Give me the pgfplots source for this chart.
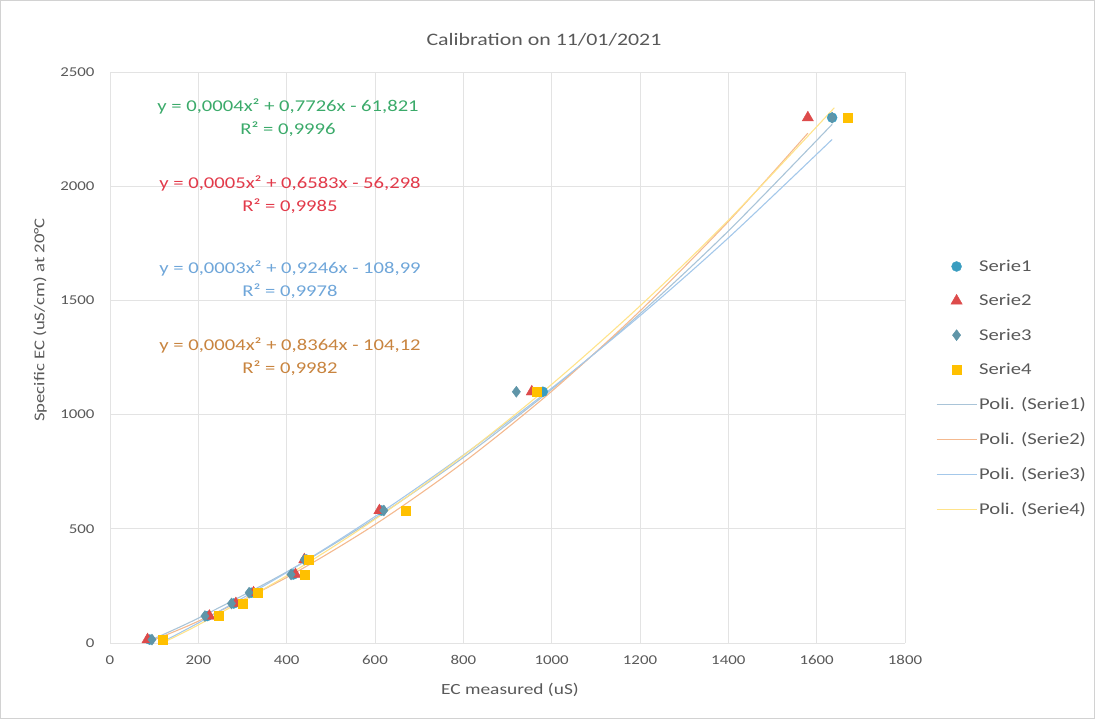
\documentclass[border=0pt]{standalone}
\usepackage{fontspec}
\setmainfont{Carlito}[FakeStretch=1.25]
\usepackage{pgfplots}
\pgfplotsset{compat=1.18}
\definecolor{txt}{HTML}{595959}
\definecolor{gridc}{HTML}{E3E3E3}
\definecolor{sA}{HTML}{3A9DC0}
\definecolor{sB}{HTML}{DD4B4B}
\definecolor{sC}{HTML}{5F95A8}
\definecolor{sD}{HTML}{FFC000}
\definecolor{tA}{HTML}{A9C4D8}
\definecolor{tB}{HTML}{F4B98F}
\definecolor{tC}{HTML}{A4C8EA}
\definecolor{tD}{HTML}{FFE38A}
\definecolor{eA}{HTML}{3BAA6A}
\definecolor{eB}{HTML}{E23A4A}
\definecolor{eC}{HTML}{6FA6D9}
\definecolor{eD}{HTML}{C8843F}
\begin{document}
\begin{tikzpicture}[x=1pt,y=1pt]
\useasboundingbox (0,0) rectangle (1095,719);
\draw[gray!35] (0.5,0.5) rectangle (1094.5,718.5);
\begin{axis}[
  at={(110pt,76pt)}, anchor=south west,
  scale only axis, width=795pt, height=571pt,
  xmin=0, xmax=1800, ymin=0, ymax=2500,
  xtick distance=200, ytick distance=500,
  grid=major, grid style={color=gridc, line width=0.8pt},
  axis line style={draw=none}, tick style={draw=none},
  /pgf/number format/assume math mode=true,
  /pgf/number format/1000 sep={},
  ticklabel style={font=\fontsize{13.5}{15}\selectfont, text=txt},
  xticklabel style={yshift=-9pt},
  yticklabel style={xshift=-12pt},
  legend image code/.code={\draw[mark repeat=2,mark phase=2,#1] plot coordinates {(0pt,0pt) (20pt,0pt) (40pt,0pt)};},
  legend style={at={(1.035,0.678)}, anchor=north west, draw=none, fill=none,
    font=\fontsize{16.5}{18}\selectfont, row sep=17.5pt},
  legend cell align=left,
]
\addplot[only marks, mark=*, mark size=5pt, color=sA] coordinates {
(90,15) (220,118) (280,173) (320,220) (415,300) (445,365) (615,580) (980,1100) (1635,2300)};
\addlegendentry{\textcolor{txt}{Serie1}}
\addplot[only marks, mark=triangle*, mark size=6.5pt, color=sB] coordinates {
(85,15) (225,118) (285,173) (325,220) (420,300) (440,365) (610,580) (955,1100) (1580,2300)};
\addlegendentry{\textcolor{txt}{Serie2}}
\addplot[only marks, mark=diamond*, mark size=5.5pt, color=sC] coordinates {
(95,15) (215,118) (275,173) (315,220) (410,300) (440,365) (620,580) (920,1100) (1635,2300)};
\addlegendentry{\textcolor{txt}{Serie3}}
\addplot[only marks, mark=square*, mark size=4.5pt, color=sD] coordinates {
(120,15) (245,118) (300,173) (335,220) (440,300) (450,365) (670,580) (965,1100) (1670,2300)};
\addlegendentry{\textcolor{txt}{Serie4}}
\addplot[smooth, no marks, color=tA, line width=1.1pt] coordinates {
(85,6.7) (200,108.7) (400,311.2) (600,545.7) (800,812.3) (1000,1110.8) (1200,1441.3) (1400,1803.8) (1635,2270.7)};
\addlegendentry{\textcolor{txt}{Poli. (Serie1)}}
\addplot[smooth, no marks, color=tB, line width=1.1pt] coordinates {
(85,3.3) (200,95.4) (400,287.0) (600,518.7) (800,790.3) (1000,1102.0) (1200,1453.7) (1400,1845.3) (1580,2232.0)};
\addlegendentry{\textcolor{txt}{Poli. (Serie2)}}
\addplot[smooth, no marks, color=tC, line width=1.1pt] coordinates {
(95,-18.4) (200,87.9) (400,308.9) (600,553.8) (800,822.7) (1000,1115.6) (1200,1432.5) (1400,1773.5) (1635,2204.7)};
\addlegendentry{\textcolor{txt}{Poli. (Serie3)}}
\addplot[smooth, no marks, color=tD, line width=1.1pt] coordinates {
(120,2.0) (200,79.2) (400,294.4) (600,541.7) (800,821.0) (1000,1132.3) (1200,1475.6) (1400,1850.8) (1640,2343.4)};
\addlegendentry{\textcolor{txt}{Poli. (Serie4)}}
\end{axis}
\node[font=\fontsize{17.5}{19}\selectfont, text=txt] at (544,679) {Calibration on 11/01/2021};
\node[font=\fontsize{15.5}{17}\selectfont, text=txt] at (510,29) {EC measured (uS)};
\node[font=\fontsize{15}{17}\selectfont, text=txt, rotate=90] at (40,399) {Specific EC (uS/cm) at 20°C};
\begin{scope}[font=\fontsize{16.5}{18}\selectfont]
\node[text=eA] at (288,613) {y = 0,0004x² + 0,7726x - 61,821};
\node[text=eA] at (288,590) {R² = 0,9996};
\node[text=eB] at (290,536) {y = 0,0005x² + 0,6583x - 56,298};
\node[text=eB] at (290,513) {R² = 0,9985};
\node[text=eC] at (290,451) {y = 0,0003x² + 0,9246x - 108,99};
\node[text=eC] at (290,428) {R² = 0,9978};
\node[text=eD] at (290,374) {y = 0,0004x² + 0,8364x - 104,12};
\node[text=eD] at (290,351) {R² = 0,9982};
\end{scope}
\end{tikzpicture}
\end{document}
